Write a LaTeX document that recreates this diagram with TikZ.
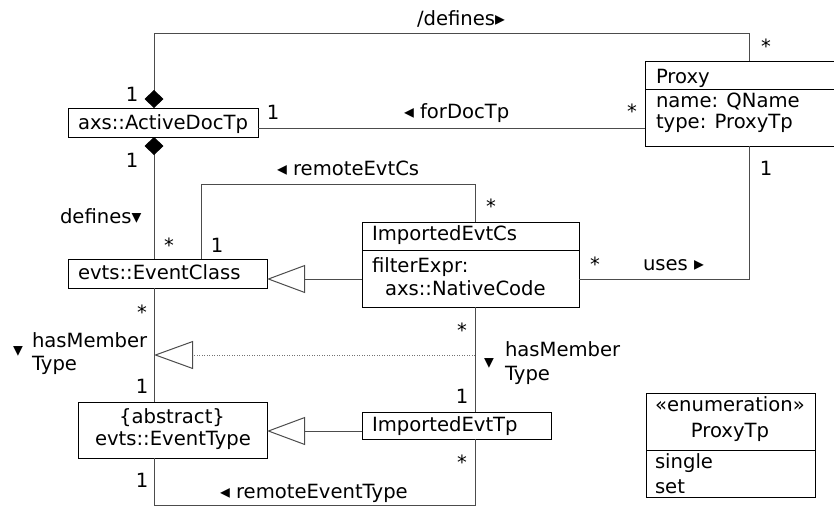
\documentclass[tikz,border=0pt]{standalone}
\usepackage{fontspec}
\setmainfont{DejaVu Sans}
\usetikzlibrary{arrows.meta}
\newcommand\umlfont{\fontsize{19.6}{23}\selectfont}
\tikzset{
  box/.style={draw=black, line width=1pt, inner sep=0pt, outer sep=0pt},
  sepline/.style={draw=black, line width=1pt},
  conn/.style={draw=black!70, line width=1pt},
  comp/.style={conn, {Diamond[length=18pt,width=19pt,color=black]}-},
  gen/.style={conn, -{Triangle[open,length=38pt,width=28pt,fill=white]}},
  dotgen/.style={draw=black!55, line width=0.8pt, dash pattern=on 1pt off 1.5pt,
     -{Triangle[open,length=39pt,width=28pt,fill=white,sep=0pt,line width=1pt,color=black!70]}},
  lbl/.style={inner sep=0pt, outer sep=0pt, font=\umlfont, anchor=base west},
  mult/.style={inner sep=0pt, outer sep=0pt, font=\umlfont, anchor=base},
}
\begin{document}
\begin{tikzpicture}[x=1pt,y=-1pt]
\useasboundingbox (0,0) rectangle (834,507);

% boxes
\node[box, minimum width=190pt, minimum height=29pt] (adt) at (163,122.5) {};
\node[box, minimum width=191pt, minimum height=85pt] (proxy) at (740.5,103.5) {};
\node[box, minimum width=217pt, minimum height=85pt] (iec) at (470.5,264.5) {};
\node[box, minimum width=199pt, minimum height=29pt] (ec) at (167.5,273.5) {};
\node[box, minimum width=189pt, minimum height=56pt] (et) at (172.5,430) {};
\node[box, minimum width=189pt, minimum height=27pt] (iet) at (456.5,425.5) {};
\node[box, minimum width=169pt, minimum height=104pt] (ptp) at (730.5,445) {};

\draw[sepline] ([yshift=-28pt]proxy.north west) -- ([yshift=-28pt]proxy.north east);
\draw[sepline] ([yshift=-28pt]iec.north west) -- ([yshift=-28pt]iec.north east);
\draw[sepline] ([yshift=-57pt]ptp.north west) -- ([yshift=-57pt]ptp.north east);

% box texts
\node[lbl] (tadt) at (78,129) {axs::ActiveDocTp};
\node[lbl] (tproxy) at (656,83) {Proxy};
\node[lbl] (tpa1) at (656,107) {name: QName};
\node[lbl] (tpa2) at (656,128) {type: ProxyTp};
\node[lbl] (tiec) at (372,240) {ImportedEvtCs};
\node[lbl] (tia1) at (372,272) {filterExpr:};
\node[lbl] (tia2) at (385,295) {axs::NativeCode};
\node[lbl] (tec) at (78,279) {evts::EventClass};
\node[mult] (tet1) at (172,423) {\{abstract\}};
\node[mult] (tet2) at (173,445) {evts::EventType};
\node[lbl] (tiet) at (372,431) {ImportedEvtTp};
\node[mult] (tptp1) at (730,411) {«enumeration»};
\node[mult] (tptp2) at (730,437) {ProxyTp};
\node[lbl] (tptpa1) at (655,468) {single};
\node[lbl] (tptpa2) at (655,493) {set};

% bend coordinates
\coordinate (ctl) at (154,33);
\coordinate (ctr) at (749,33);
\coordinate (cfd) at (0,128);
\coordinate (cus) at (749,279);
\coordinate (crr) at (475,184);
\coordinate (crl) at (201,184);
\coordinate (cg1) at (0,279);
\coordinate (cg2) at (0,431);
\coordinate (cdot) at (475,355);
\coordinate (cbl) at (154,505);
\coordinate (cbr) at (475,505);

% connectors
\draw[comp] (adt.north -| ctl) -- (ctl) -- (ctr) -- (proxy.north -| ctr);
\draw[comp] (adt.south -| ctl) -- (ec.north -| ctl);
\draw[conn] (adt.east |- cfd) -- (proxy.west |- cfd);
\draw[conn] (iec.east |- cus) -- (cus) -- (proxy.south -| cus);
\draw[conn] (iec.north -| crr) -- (crr) -- (crl) -- (ec.north -| crl);
\draw[gen] (iec.west |- cg1) -- (ec.east |- cg1);
\draw[gen] (iet.west |- cg2) -- (et.east |- cg2);
\draw[conn] (ec.south -| ctl) -- (et.north -| ctl);
\draw[conn] (iec.south -| crr) -- (iet.north -| crr);
\draw[dotgen] (cdot) -- (cdot -| ctl);
\draw[conn] (et.south -| cbl) -- (cbl) -- (cbr) -- (iet.south -| cbr);

% association labels
\node[lbl] (ldef) at (417,25) {/defines▸};
\node[lbl] (lfor) at (404,118) {◂ forDocTp};
\node[lbl] (lrec) at (277,175) {◂ remoteEvtCs};
\node[lbl] (ldefs) at (60,223) {defines▾};
\node[lbl] (luses) at (643,270) {uses ▸};
\node[mult] (lhm1a) at (18,356) {▾};
\node[lbl] (lhm1b) at (32,347) {hasMember};
\node[lbl] (lhm1c) at (32,370) {Type};
\node[mult] (lhm2a) at (489,368) {▾};
\node[lbl] (lhm2b) at (505,356) {hasMember};
\node[lbl] (lhm2c) at (505,380) {Type};
\node[lbl] (lret) at (220,498) {◂ remoteEventType};

% multiplicities
\node[mult] (m1) at (132,101) {1};
\node[mult] (m2) at (766,53) {*};
\node[mult] (m3) at (273,119) {1};
\node[mult] (m4) at (632,118) {*};
\node[mult] (m5) at (132,167) {1};
\node[mult] (m6) at (766,175) {1};
\node[mult] (m7) at (169,252) {*};
\node[mult] (m8) at (217,252) {1};
\node[mult] (m9) at (491,213) {*};
\node[mult] (m10) at (595,271) {*};
\node[mult] (m11) at (142,319) {*};
\node[mult] (m12) at (142,393) {1};
\node[mult] (m13) at (142,487) {1};
\node[mult] (m14) at (462,337) {*};
\node[mult] (m15) at (462,403) {1};
\node[mult] (m16) at (462,469) {*};
\end{tikzpicture}
\end{document}
